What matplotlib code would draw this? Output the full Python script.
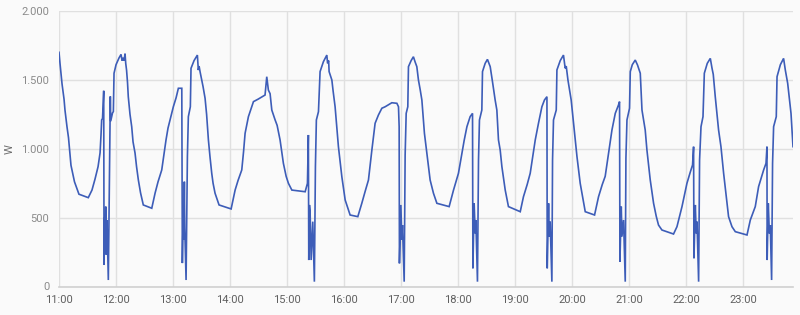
import matplotlib
matplotlib.use("Agg")
import matplotlib.pyplot as plt

# minutes since 11:00
minutes = [
    0, 1.05, 2.1, 3.2, 5.3, 6.3, 8.4, 10, 11.6, 12.6, 14.7, 16.3, 17.9, 21, 30.8,
    34.7, 37.9, 41.1, 43.2, 44.2, 44.9, 45.8, 47.05, 47.4, 48.1, 48.7, 49.2, 49.8, 50.5, 51.9,
    53.2, 54, 54.4, 56.3, 57.2, 57.9, 60, 63.2, 65.3, 66.3, 67.4, 68.4, 69.5, 70.2, 71.1, 72.1,
    72.9, 74.7, 76.5, 77.9, 80, 81.6, 83.5, 85.8, 88.7, 97.6,
    101.1, 104.2, 108.1, 110.5, 112.6, 114.7, 116.8, 120.3, 123.2, 125.6, 129.2,
    129.8, 130.5, 131.3, 131.9, 132.3, 133.7, 135.1, 136.1, 138.2, 138.9, 142.1, 145.6, 146.6,
    147.4, 148.4, 150.2, 151.6, 153.7, 155.3, 157.2, 158.9, 160.7, 162.1, 164.2, 168.4, 181.1,
    185.3, 188.4, 192.3, 194.2, 195.8, 199.3, 201.1, 204.6, 209.5, 216.8, 218.6, 220.3, 222.1,
    223.9, 227.4, 229.5, 232.6, 236.1, 239, 241.4, 245, 259, 261.4,
    262.4, 262.8, 263.5, 264.2, 265.3, 267, 268.7, 269.8, 270.8, 273, 274.7, 278.2, 281.8,
    282.6, 283.7, 284.2, 287.1, 288.4, 290.5, 294, 297.6, 301.1, 306.3, 314.4,
    318.6, 322.1, 325.6, 329.2, 332.6, 336.1, 339.7, 343.2, 350.2, 355.5, 357.2, 357.9,
    358.2, 359.7, 360.7, 361.4, 363.2, 364.2, 365.3, 367, 367.7, 370.5, 372.9, 374.7, 376.5,
    378.2, 380, 381.8, 384.5, 387.1, 390.5, 394, 397.6, 410.5,
    415.1, 420.3, 423.9, 426.3, 429.2, 432.6, 435.1,
    435.5, 436.8, 437.9, 438.6, 440.3, 441.4, 442.4, 444.9, 445.6, 448.4, 450.8, 453.7, 456.1,
    458.9, 460.7, 462.4, 464.2, 466, 469.5, 472.9, 485.3,
    488.7, 492.6, 495.8, 501.1, 504.5, 508.1, 510.8, 513.4,
    513.7, 515.1, 515.8, 516.8, 518.6, 519.3, 520.3, 523.2, 523.9, 527.4, 530.8, 532.6, 533.7,
    535.5, 538.9, 541.4, 545, 548.4, 553.7, 563.5,
    567.7, 571.6, 574.7, 578.2, 581.8, 585.3, 588.7, 589.8,
    590.2, 591.6, 592.3, 594, 595.8, 596.5, 597.6, 600.3, 601.1, 603.2, 606.3, 608.7, 611.6,
    613.4, 616.8, 618.6, 622.1, 625.6, 628.4, 630.8, 634.4, 646.6,
    650.2, 655.5, 660.7, 664.2, 666.6, 667.7,
    668.1, 669.5, 670.5, 671.3, 673, 674, 675.5, 677.6, 679, 682.1, 685.3, 687.1, 688.4,
    690.5, 692.3, 694, 696.5, 699.3, 702.1, 704.5, 708.1, 711.6, 723.9,
    727.4, 732.6, 736.1, 741.4, 743.9, 744.9,
    745.1, 746.3, 747.4, 748.4, 749.8, 750.8, 751.9, 754.7, 755.5, 759, 762.4, 764.2, 766.7,
    768.4, 770.2, 771.3, 772.3,
]
watts = [
    1700, 1620, 1550, 1470, 1360, 1280, 1160, 1080, 960, 880, 810, 760, 730, 670, 645,
    700, 780, 870, 970, 1100, 1209, 1220, 1421, 156, 500, 380, 580, 230, 480, 47,
    880, 1380, 1200, 1260, 1270, 1548, 1610, 1660, 1685, 1640, 1660, 1640, 1690, 1620, 1570, 1480,
    1378, 1250, 1160, 1050, 969, 870, 773, 680, 592, 568,
    678, 760, 846, 960, 1064, 1150, 1209, 1305, 1370, 1439, 1439,
    170, 471, 338, 761, 430, 47, 943, 1233, 1305, 1584, 1640, 1680, 1571,
    1600, 1560, 1499, 1450, 1366, 1250, 1064, 940, 822, 750, 677, 592, 563,
    700, 770, 846, 980, 1112, 1233, 1270, 1342, 1360, 1390, 1523, 1426, 1400,
    1281, 1209, 1170, 1064, 894, 800, 749, 700, 688, 749,
    1100, 192, 592, 543, 192, 471, 35, 870, 1209, 1269, 1560, 1632, 1680,
    1620, 1640, 1560, 1499, 1420, 1305, 1015, 797, 628, 519, 507,
    604, 690, 773, 991, 1185, 1245, 1294, 1305, 1334, 1330, 1305, 1160,
    168, 592, 338, 446, 35, 955, 1257, 1305, 1596, 1640, 1668, 1630, 1596,
    1499, 1430, 1354, 1112, 967, 773, 677, 604, 580,
    700, 822, 967, 1060, 1160, 1233, 1257,
    132, 604, 386, 483, 35, 918, 1209, 1281, 1560, 1620, 1649, 1596, 1487,
    1354, 1281, 1064, 991, 870, 700, 580, 543,
    652, 740, 822, 1064, 1185, 1305, 1354, 1378,
    132, 604, 362, 471, 35, 918, 1209, 1281, 1572, 1640, 1680, 1584, 1600,
    1499, 1354, 1185, 943, 749, 543, 519,
    652, 740, 800, 967, 1136, 1257, 1318, 1342,
    180, 580, 362, 483, 35, 930, 1209, 1294, 1560, 1610, 1644, 1608, 1548,
    1281, 1136, 991, 773, 604, 510, 446, 410, 381,
    434, 580, 749, 830, 882, 1015,
    205, 592, 386, 471, 35, 918, 1160, 1233, 1548, 1620, 1656, 1584, 1540,
    1378, 1257, 1136, 1015, 822, 652, 507, 434, 398, 374,
    483, 580, 725, 846, 894, 1015,
    192, 604, 386, 446, 47, 894, 1160, 1233, 1523, 1610, 1656, 1572, 1475,
    1366, 1257, 1136, 1015,
]

tick_minutes = [0, 60, 120, 180, 240, 300, 360, 420, 480, 540, 600, 660, 720]
tick_labels = ["11:00", "12:00", "13:00", "14:00", "15:00", "16:00", "17:00",
               "18:00", "19:00", "20:00", "21:00", "22:00", "23:00"]
y_ticks = [0, 500, 1000, 1500, 2000]
y_labels = ["0", "500", "1.000", "1.500", "2.000"]

plt.rcParams['font.family'] = ['Roboto', 'DejaVu Sans']

fig = plt.figure(figsize=(8, 3.15), dpi=100, facecolor='#fafafa')
ax = fig.add_axes([59/800, 1 - 286.5/315, (793 - 59)/800, (286.5 - 11)/315])
ax.set_facecolor('#fafafa')

ax.plot(minutes, watts, color='#3d5db8', linewidth=1.2, solid_joinstyle='miter')

ax.set_xlim(0, 772.3)
ax.set_ylim(0, 2000)
ax.set_xticks(tick_minutes)
ax.set_xticklabels(tick_labels)
ax.set_yticks(y_ticks)
ax.set_yticklabels(y_labels)

ax.grid(True, color='#e0e0e0', linewidth=1)
ax.set_axisbelow(True)
for s in ['top', 'right', 'left']:
    ax.spines[s].set_visible(False)
ax.spines['bottom'].set_color('#d0d0d0')
ax.spines['bottom'].set_linewidth(1.2)

ax.tick_params(axis='x', length=0, pad=6, labelsize=8, labelcolor='#5f5f5f')
ax.tick_params(axis='y', length=0, pad=7, labelsize=8, labelcolor='#8a8a8a')
ax.set_ylabel('W', fontsize=8, color='#707070')
ax.yaxis.set_label_coords(-(59 - 15) / 734, 0.5)

fig.savefig('out.png', dpi=100, facecolor='#fafafa')
